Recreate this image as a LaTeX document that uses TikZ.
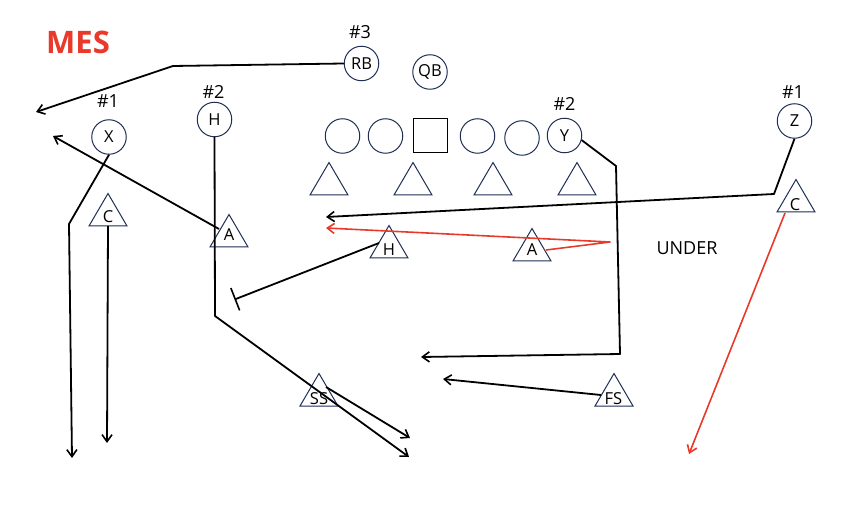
\documentclass[tikz,border=0pt]{standalone}
\usepackage{fontspec}
\setmainfont{Open Sans}
\usetikzlibrary{arrows.meta}
\definecolor{navy}{HTML}{1F2E55}
\definecolor{redc}{HTML}{E8392A}
\begin{document}
\begin{tikzpicture}[x=1pt,y=-1pt,
  pl/.style={circle,draw=navy,line width=1pt,minimum size=34.5pt,inner sep=0pt,font=\fontsize{16.5}{19}\selectfont},
  sq/.style={rectangle,draw=black,line width=1pt,minimum size=34pt,inner sep=0pt},
  lbl/.style={font=\fontsize{18}{21}\selectfont,inner sep=0pt},
  tlbl/.style={font=\fontsize{16.5}{19}\selectfont,inner sep=0pt},
  tri/.style={draw=navy,line width=1pt},
  route/.style={line width=1.8pt,line join=round,-{Straight Barb[length=7pt,width=10pt,line width=1.6pt]}},
  redroute/.style={route,draw=redc,line width=1.6pt},
  block/.style={line width=1.8pt,-{Bar[width=24pt,line width=1.6pt]}}
]
\path[use as bounding box] (0,0) rectangle (866,510);

% title
\node[font=\fontsize{31}{36}\selectfont\bfseries,text=redc,inner sep=0pt] (mes) at (78,42.5) {MES};
\node[lbl] (under) at (687,248.5) {UNDER};

% offense
\node[pl] (RB) at (361.5,63.5) {RB};
\node[pl] (QB) at (430,72) {QB};
\node[pl] (X) at (109,137) {X};
\node[pl] (H) at (214.5,119.5) {H};
\node[pl] (OL1) at (342.5,136) {};
\node[pl] (OL2) at (385.5,136) {};
\node[sq] (C) at (430,136) {};
\node[pl] (OL3) at (477.5,136) {};
\node[pl] (OL4) at (522,138) {};
\node[pl] (Y) at (564.5,135.5) {Y};
\node[pl] (Z) at (794.5,121) {Z};

\node[lbl] (n3) at (360,32.5) {\#3};
\node[lbl] (n2h) at (213.5,92) {\#2};
\node[lbl] (n1x) at (108,101.5) {\#1};
\node[lbl] (n2y) at (564.5,103.5) {\#2};
\node[lbl] (n1z) at (793,92) {\#1};

% defensive triangles (apex x, base y)
\foreach \ax/\by in {329/195,413/195,493/195,577/195,108/226,229/247,389/258,532/261,796/212,319/406,614/406}
  \draw[tri] (\ax-19,\by) -- (\ax+19,\by) -- (\ax,\by-32.5) -- cycle;

\node[tlbl] (CL) at (108,217) {C};
\node[tlbl] (AL) at (229,235) {A};
\node[tlbl] (HL) at (389,250) {H};
\node[tlbl] (AR) at (532,250) {A};
\node[tlbl] (CR) at (795,204.5) {C};
\node[tlbl] (SS) at (319,399) {SS};
\node[tlbl] (FS) at (613.5,399) {FS};

% route coordinates
\coordinate (rb1) at (173,66);
\coordinate (rbE) at (36,112);
\coordinate (x1) at (69,224);
\coordinate (xE) at (72,458);
\coordinate (cLs) at (108,226);
\coordinate (cLE) at (107,443);
\coordinate (aLs) at (219,229);
\coordinate (aLE) at (53,136);
\coordinate (h1) at (215,316);
\coordinate (hE) at (409,457);
\coordinate (ssS) at (326,387);
\coordinate (ssE) at (410,438);
\coordinate (hLs) at (379,243);
\coordinate (hLE) at (234.5,299.5);
\coordinate (z1) at (774,194);
\coordinate (zE) at (326,217);
\coordinate (aRs) at (546,250);
\coordinate (aR1) at (610,242);
\coordinate (aRE) at (326,228);
\coordinate (y1) at (616,166);
\coordinate (y2) at (620,354);
\coordinate (yE) at (421,357);
\coordinate (fsS) at (601,395);
\coordinate (fsE) at (443,379);
\coordinate (cRs) at (785,213);
\coordinate (cRE) at (689,454);

% routes
\draw[route] (RB.west) -- (rb1) -- (rbE);
\draw[route] (X.south) -- (x1) -- (xE);
\draw[route] (cLs) -- (cLE);
\draw[route] (aLs) -- (aLE);
\draw[route] (H.south) -- (h1) -- (hE);
\draw[route] (ssS) -- (ssE);
\draw[block] (hLs) -- (hLE);
\draw[route] (Z.south) -- (z1) -- (zE);
\draw[redroute] (aRs) -- (aR1) -- (aRE);
\draw[route] (Y.-15) -- (y1) -- (y2) -- (yE);
\draw[route] (fsS) -- (fsE);
\draw[redroute] (cRs) -- (cRE);
\end{tikzpicture}
\end{document}
